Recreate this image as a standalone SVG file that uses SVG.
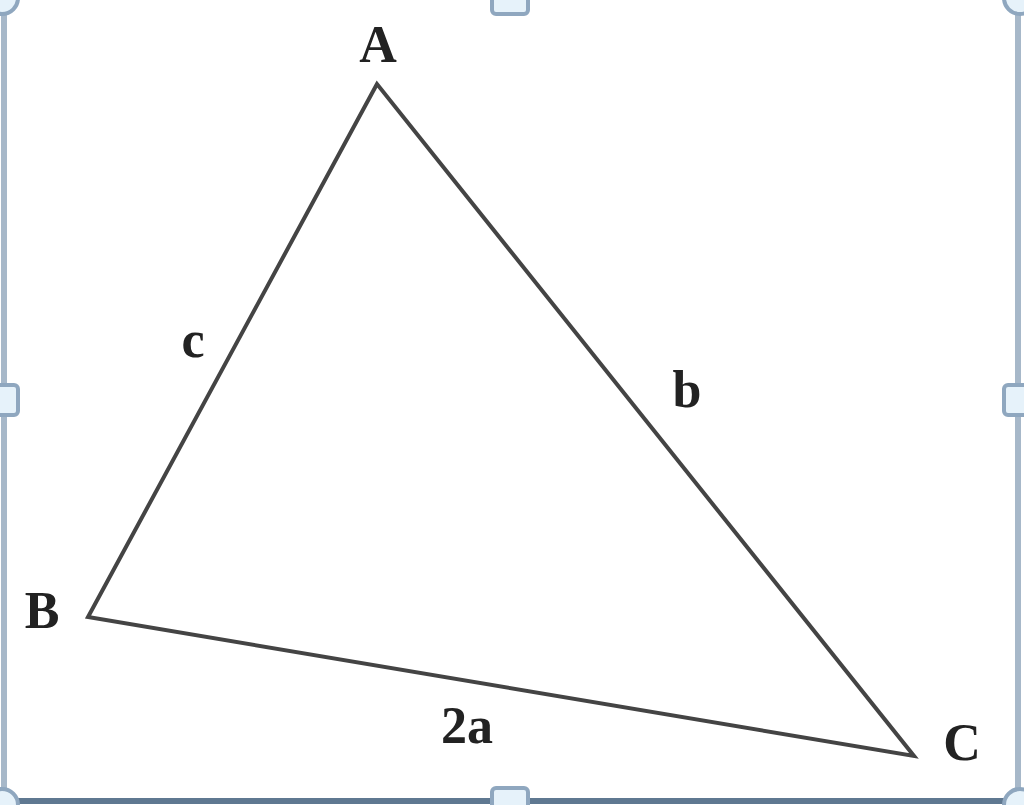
<svg xmlns="http://www.w3.org/2000/svg" width="1024" height="805" viewBox="0 0 1024 805">
<style>
.lbl{font-family:"Liberation Serif","DejaVu Serif",serif;font-size:52px;font-weight:bold;fill:#222;text-anchor:middle}
.h{fill:#e6f2fa;stroke:#8fa7bf;stroke-width:4}
</style>
<rect width="1024" height="805" fill="#fff"/>
<g id="frame">
<line x1="4" y1="0" x2="4" y2="800" stroke="#a7b8c9" stroke-width="6"/>
<line x1="1018" y1="0" x2="1018" y2="800" stroke="#a7b8c9" stroke-width="6"/>
<line x1="0" y1="801" x2="1024" y2="801" stroke="#5f7891" stroke-width="6"/>
<circle class="h" cx="2" cy="-2" r="16"/>
<circle class="h" cx="1020" cy="-2" r="16"/>
<circle class="h" cx="2" cy="805" r="16"/>
<circle class="h" cx="1020" cy="805" r="16"/>
<rect class="h" x="492" y="-12" width="36" height="26" rx="4"/>
<rect class="h" x="492" y="788" width="36" height="26" rx="4"/>
<rect class="h" x="-12" y="385" width="30" height="30" rx="4"/>
<rect class="h" x="1004" y="385" width="30" height="30" rx="4"/>
</g>
<g id="connectors" stroke="#444" stroke-width="4" fill="none" stroke-linejoin="miter">
<polygon points="377,84 88,617 914,756"/>
</g>
<g id="labels">
<text class="lbl" x="378" y="62">A</text>
<text class="lbl" x="42" y="628">B</text>
<text class="lbl" x="962" y="760">C</text>
<text class="lbl" x="193" y="357">c</text>
<text class="lbl" x="687" y="407">b</text>
<text class="lbl" x="467" y="743">2a</text>
</g>
</svg>
